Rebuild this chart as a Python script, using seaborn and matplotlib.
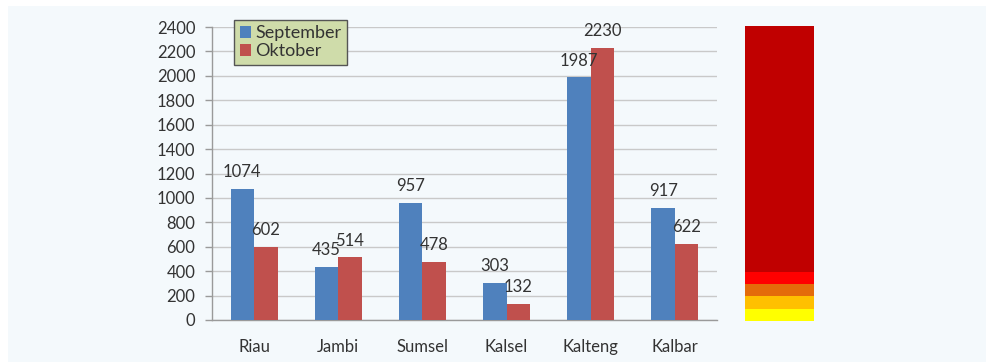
import matplotlib
matplotlib.use("Agg")
import matplotlib.pyplot as plt
from matplotlib.patches import Rectangle
import pandas as pd
import seaborn as sns

# Hotspot counts per province, September vs Oktober
provinces = ["Riau", "Jambi", "Sumsel", "Kalsel", "Kalteng", "Kalbar"]
september = [1074, 435, 957, 303, 1987, 917]
oktober = [602, 514, 478, 132, 2230, 622]
months = ["September", "Oktober"]
month_colors = ["#4f81bd", "#c0504d"]

# Colour scale bands shown beside the chart
band_edges = [0, 100, 200, 300, 400, 2400]
band_colors = ["#ffff00", "#ffc000", "#e46c0a", "#ff0000", "#c00000"]

y_ticks = list(range(0, 2401, 200))

df = pd.DataFrame({
    "Provinsi": provinces * 2,
    "Bulan": [months[0]] * len(provinces) + [months[1]] * len(provinces),
    "Jumlah": september + oktober,
})

sns.set_style("white")
plt.rcParams["font.family"] = ["Lato", "DejaVu Sans"]
text_color = "#333333"
bg = "#f4f9fc"
fs = 12

W, H = 987, 362
fig = plt.figure(figsize=(W / 100, H / 100), dpi=100, facecolor="white")
fig.patches.append(Rectangle((8 / W, 0), 1 - 8 / W, 1 - 6 / H,
                             transform=fig.transFigure, facecolor=bg,
                             edgecolor="none", zorder=-10))

ax = fig.add_axes([212 / W, (H - 320) / H, 505 / W, 293 / H])
ax.set_facecolor(bg)
ax.patch.set_alpha(0)

sns.barplot(data=df, x="Provinsi", y="Jumlah", hue="Bulan", order=provinces,
            hue_order=months, palette=month_colors, width=0.56, gap=0,
            saturation=1, linewidth=0, ax=ax, zorder=3)

ax.set_ylim(0, 2400)
ax.set_xlim(-0.5, len(provinces) - 0.5)
ax.set_yticks(y_ticks)
ax.set_yticklabels([str(v) for v in y_ticks])
ax.set_xlabel("")
ax.set_ylabel("")
ax.yaxis.grid(True, color="#c9c9c9", linewidth=1, zorder=0)
ax.set_axisbelow(True)

# category boundary ticks on the x axis
ax.set_xticks(range(len(provinces)))
ax.set_xticklabels(provinces)
ax.set_xticks([i - 0.5 for i in range(len(provinces) + 1)], minor=True)
ax.tick_params(axis="x", which="major", length=0, pad=14, labelsize=fs,
               labelcolor=text_color)
ax.tick_params(axis="x", which="minor", length=5, width=1, color="#9a9a9a",
               direction="out")
ax.tick_params(axis="y", length=5, width=1, color="#9a9a9a", pad=7,
               labelsize=fs, labelcolor=text_color, left=True)

for side in ["top", "right"]:
    ax.spines[side].set_visible(False)
for side in ["left", "bottom"]:
    ax.spines[side].set_color("#9a9a9a")
    ax.spines[side].set_linewidth(1)

# value labels above each bar
for container, vals in zip(ax.containers, [september, oktober]):
    for bar, v in zip(container, vals):
        ax.annotate(str(v), (bar.get_x() + bar.get_width() / 2, v),
                    xytext=(0, 12), textcoords="offset points",
                    ha="center", va="center", fontsize=fs, color=text_color,
                    zorder=5)

leg = ax.legend(loc="upper left", bbox_to_anchor=(0.044, 1.024),
                borderaxespad=0, frameon=True, fancybox=False,
                fontsize=13, handlelength=0.65, handleheight=0.65,
                handletextpad=0.2, labelspacing=0.1, borderpad=0.3,
                labelcolor=text_color)
leg.get_frame().set_facecolor("#cfdcaa")
leg.get_frame().set_edgecolor("#555555")
leg.get_frame().set_linewidth(1)
leg.get_frame().set_alpha(1)
leg.set_zorder(6)

# colour scale column
cax = fig.add_axes([745 / W, (H - 321) / H, 69 / W, 296 / H])
cax.set_xlim(-0.5, 0.5)
cax.set_ylim(0, 2410)
for lo, hi, c in zip(band_edges[:-1], band_edges[1:], band_colors):
    cax.bar(0, hi - lo, bottom=lo, width=1.0, color=c, linewidth=0)
cax.axis("off")

fig.savefig("out.png", dpi=100, facecolor="white")
